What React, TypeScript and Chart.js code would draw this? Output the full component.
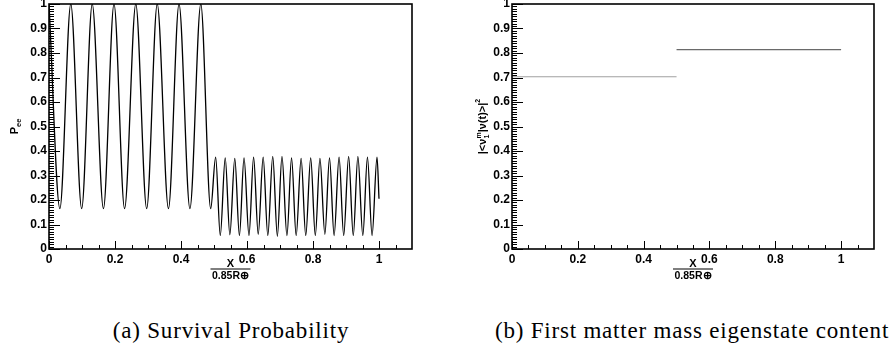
import React, { useEffect, useRef } from "react";
import { Chart, registerables } from "chart.js";

Chart.register(...registerables);

// ---- data ----
const xTickValues = [0, 0.2, 0.4, 0.6, 0.8, 1];
const xTickLabels = ["0", "0.2", "0.4", "0.6", "0.8", "1"];
const yTickValues = [0, 0.1, 0.2, 0.3, 0.4, 0.5, 0.6, 0.7, 0.8, 0.9, 1];
const yTickLabels = ["0", "0.1", "0.2", "0.3", "0.4", "0.5", "0.6", "0.7", "0.8", "0.9", "1"];

// Survival probability, first layer (extrema)
const layer1X = [0, 0.033, 0.066, 0.099, 0.131, 0.165, 0.197, 0.229, 0.263, 0.296, 0.328, 0.362, 0.394, 0.427, 0.46, 0.49];
const layer1Y = [1, 0.165, 1, 0.165, 1, 0.165, 1, 0.165, 1, 0.165, 1, 0.165, 1, 0.165, 1, 0.165];
// Survival probability, second layer (extrema + end point)
const layer2X = [0.505, 0.519, 0.534, 0.548, 0.563, 0.577, 0.591, 0.606, 0.62, 0.634, 0.649, 0.663, 0.678, 0.692, 0.706, 0.721, 0.735, 0.749, 0.764, 0.778, 0.793, 0.807, 0.821, 0.836, 0.85, 0.864, 0.879, 0.893, 0.908, 0.922, 0.936, 0.951, 0.965, 0.979, 0.994, 1.0];
const layer2Y = [0.375, 0.055, 0.372, 0.058, 0.37, 0.055, 0.372, 0.055, 0.375, 0.06, 0.375, 0.055, 0.378, 0.052, 0.378, 0.055, 0.372, 0.055, 0.37, 0.055, 0.372, 0.055, 0.37, 0.06, 0.372, 0.055, 0.375, 0.055, 0.378, 0.055, 0.378, 0.055, 0.375, 0.055, 0.375, 0.205];

// First matter mass eigenstate content
const content1X = [0, 0.5];
const content1Y = [0.703, 0.703];
const content2X = [0.5, 1.0];
const content2Y = [0.814, 0.814];

const captions = ["(a) Survival Probability", "(b) First matter mass eigenstate content"];

const FONT = "'Liberation Sans', Arial, Helvetica, sans-serif";

type Part = { t?: string; sup?: string; sub?: string; size: number; dy?: number };

function drawRich(ctx: CanvasRenderingContext2D, parts: Part[], x: number, y: number, rotated: boolean) {
  ctx.save();
  ctx.translate(x, y);
  if (rotated) ctx.rotate(-Math.PI / 2);
  const widths: number[] = [];
  let total = 0;
  for (const p of parts) {
    ctx.font = `bold ${p.size}px ${FONT}`;
    let w = 0;
    if (p.t !== undefined) w = ctx.measureText(p.t).width;
    else w = Math.max(ctx.measureText(p.sup || "").width, ctx.measureText(p.sub || "").width);
    widths.push(w);
    total += w;
  }
  let cx = -total / 2;
  ctx.fillStyle = "#000";
  ctx.textAlign = "left";
  ctx.textBaseline = "alphabetic";
  parts.forEach((p, i) => {
    ctx.font = `bold ${p.size}px ${FONT}`;
    if (p.t !== undefined) {
      ctx.fillText(p.t, cx, p.dy || 0);
    } else {
      if (p.sup) ctx.fillText(p.sup, cx, -5);
      if (p.sub) ctx.fillText(p.sub, cx, 2.5);
    }
    cx += widths[i];
  });
  ctx.restore();
}

function xTitle(ctx: CanvasRenderingContext2D, a: any) {
  const cx = (a.left + a.right) / 2;
  ctx.save();
  ctx.fillStyle = "#000";
  ctx.textAlign = "center";
  ctx.textBaseline = "alphabetic";
  ctx.font = `bold 11px ${FONT}`;
  ctx.fillText("X", cx, a.bottom + 17.7);
  ctx.strokeStyle = "#000";
  ctx.lineWidth = 1.2;
  ctx.beginPath();
  ctx.moveTo(cx - 20, a.bottom + 20);
  ctx.lineTo(cx + 20, a.bottom + 20);
  ctx.stroke();
  ctx.font = `bold 10.5px ${FONT}`;
  ctx.fillText("0.85R\u2295", cx, a.bottom + 30.3);
  ctx.restore();
}

function rootAxes(yTitle: (ctx: CanvasRenderingContext2D, a: any) => void) {
  return {
    id: "rootAxes",
    afterDraw(chart: any) {
      const { ctx, chartArea: a, scales } = chart;
      const xs = scales.x;
      const ys = scales.y;
      ctx.save();
      ctx.strokeStyle = "#000";
      ctx.lineWidth = 1;
      ctx.beginPath();
      for (let i = 0; i <= 21; i++) {
        const px = Math.round(xs.getPixelForValue(i * 0.05)) + 0.5;
        const len = i % 4 === 0 ? 8 : 4;
        ctx.moveTo(px, a.bottom);
        ctx.lineTo(px, a.bottom - len);
      }
      for (let i = 0; i <= 100; i++) {
        const py = Math.round(ys.getPixelForValue(i / 100)) + 0.5;
        const len = i % 10 === 0 ? 11 : 5;
        ctx.moveTo(a.left, py);
        ctx.lineTo(a.left + len, py);
      }
      ctx.stroke();
      ctx.lineWidth = 1.6;
      ctx.strokeRect(a.left, a.top, a.right - a.left, a.bottom - a.top);
      ctx.restore();
      xTitle(ctx, a);
      yTitle(ctx, a);
    },
  };
}

function pts(xs: number[], ys: number[]) {
  return xs.map((x, i) => ({ x, y: ys[i] }));
}

function makeConfig(datasets: any[], area: { top: number; right: number; yW: number; xH: number }, yTitle: any): any {
  return {
    type: "scatter",
    data: { datasets },
    options: {
      animation: false,
      responsive: false,
      devicePixelRatio: 1,
      events: [],
      layout: { padding: { left: 0, top: area.top, right: area.right, bottom: 0 } },
      plugins: { legend: { display: false }, tooltip: { enabled: false }, title: { display: false } },
      scales: {
        x: {
          type: "linear",
          min: 0,
          max: 1.1,
          grid: { display: false, drawTicks: false },
          border: { display: false },
          afterBuildTicks: (s: any) => {
            s.ticks = xTickValues.map((v) => ({ value: v }));
          },
          afterFit: (s: any) => {
            s.height = area.xH;
            s.paddingLeft = 0;
            s.paddingRight = 0;
          },
          ticks: {
            autoSkip: false,
            maxRotation: 0,
            padding: 3,
            color: "#000",
            font: { family: FONT, size: 12, weight: "bold" },
            callback: (_v: any, i: number) => xTickLabels[i],
          },
        },
        y: {
          type: "linear",
          min: 0,
          max: 1,
          grid: { display: false, drawTicks: false },
          border: { display: false },
          afterBuildTicks: (s: any) => {
            s.ticks = yTickValues.map((v) => ({ value: v }));
          },
          afterFit: (s: any) => {
            s.width = area.yW;
            s.paddingTop = 0;
            s.paddingBottom = 0;
          },
          ticks: {
            autoSkip: false,
            padding: 2,
            color: "#000",
            font: { family: FONT, size: 12, weight: "bold" },
            callback: (_v: any, i: number) => yTickLabels[i],
          },
        },
      },
    },
    plugins: [rootAxes(yTitle)],
  };
}

export default function App() {
  const leftRef = useRef<HTMLCanvasElement | null>(null);
  const rightRef = useRef<HTMLCanvasElement | null>(null);

  useEffect(() => {
    const lineBase = { showLine: true, pointRadius: 0, fill: false, borderWidth: 1.3 };
    const left = new Chart(
      leftRef.current as HTMLCanvasElement,
      makeConfig(
        [
          {
            ...lineBase,
            data: pts(layer1X.concat(layer2X), layer1Y.concat(layer2Y)),
            borderColor: "#000",
            cubicInterpolationMode: "monotone",
          },
        ],
        { top: 4, right: 35, yW: 49, xH: 51 },
        (ctx: CanvasRenderingContext2D, a: any) =>
          drawRich(ctx, [{ t: "P", size: 11 }, { t: "ee", size: 7.5, dy: 2.5 }], a.left - 31, (a.top + a.bottom) / 2, true)
      )
    );
    const right = new Chart(
      rightRef.current as HTMLCanvasElement,
      makeConfig(
        [
          { ...lineBase, borderWidth: 1.2, data: pts(content1X, content1Y), borderColor: "#a0a0a0" },
          { ...lineBase, borderWidth: 1.2, data: pts(content2X, content2Y), borderColor: "#6a6a6a" },
        ],
        { top: 4, right: 20, yW: 65, xH: 51 },
        (ctx: CanvasRenderingContext2D, a: any) =>
          drawRich(
            ctx,
            [
              { t: "|<\u03bd", size: 11 },
              { sup: "m", sub: "1", size: 7 },
              { t: "|\u03bd(t)>|", size: 11 },
              { t: "2", size: 7, dy: -6 },
            ],
            a.left - 26,
            (a.top + a.bottom) / 2,
            true
          )
      )
    );
    return () => {
      left.destroy();
      right.destroy();
    };
  }, []);

  const capStyle: React.CSSProperties = {
    position: "absolute",
    top: 318,
    transform: "translateX(-50%)",
    whiteSpace: "nowrap",
    fontFamily: "'Liberation Serif', 'DejaVu Serif', serif",
    fontSize: 23,
    letterSpacing: "0.8px",
    color: "#000",
    lineHeight: "26px",
  };

  return (
    <div style={{ position: "absolute", left: 0, top: 0, width: 894, height: 349, background: "#fff", overflow: "hidden" }}>
      <canvas ref={leftRef} width={447} height={300} style={{ position: "absolute", left: 0, top: 0, width: 447, height: 300 }} />
      <canvas ref={rightRef} width={447} height={300} style={{ position: "absolute", left: 447, top: 0, width: 447, height: 300 }} />
      <div style={{ ...capStyle, left: 231 }}>{captions[0]}</div>
      <div style={{ ...capStyle, left: 692 }}>{captions[1]}</div>
    </div>
  );
}
